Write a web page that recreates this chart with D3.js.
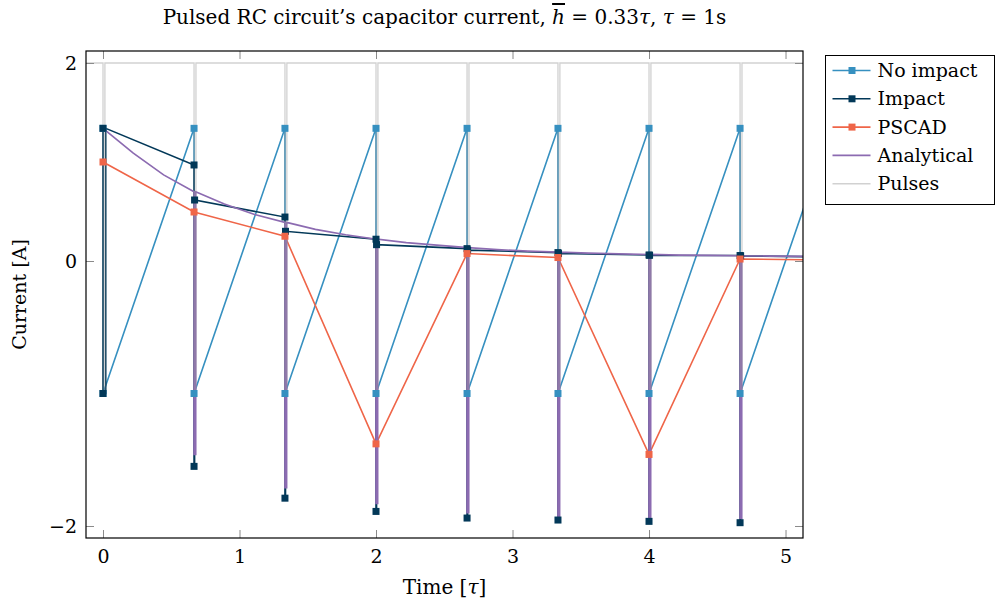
<!DOCTYPE html>
<html>
<head>
<meta charset="utf-8">
<script src="https://cdn.jsdelivr.net/npm/d3@7"></script>
<style>
  body { margin: 0; background: #fff; }
  text { font-family: "DejaVu Serif", serif; fill: #000; }
</style>
</head>
<body>
<svg id="chart" width="995" height="608"></svg>
<script>
'use strict';
// pulse instants (in tau)
const pulseTimes = [0, 0.667, 1.333, 2, 2.667, 3.333, 4, 4.667];
const pulseHigh = 2;
const pulseLow = -1.0;
const pulseWidth = 0.014;

// No impact: value right before and right after each pulse
const noImpactBefore = [1.34, 1.34, 1.34, 1.34, 1.34, 1.34, 1.34, 1.34];
const noImpactAfter = [-1.0, -1.0, -1.0, -1.0, -1.0, -1.0, -1.0, -1.0];
const noImpactEnd = {t: 5.333, v: 1.34};

// Impact: before pulse, lowest point during pulse, after pulse
const impactBefore = [1.34, 0.97, 0.444, 0.22, 0.125, 0.085, 0.06, 0.055];
const impactPeak = [-1.0, -1.55, -1.79, -1.89, -1.94, -1.955, -1.965, -1.975];
const impactAfter = [1.34, 0.616, 0.30, 0.165, 0.11, 0.075, 0.058, 0.052];
const impactEnd = {t: 5.333, v: 0.04};

// PSCAD samples
const pscadT = [0, 0.667, 1.333, 2, 2.667, 3.333, 4, 4.667, 5.333];
const pscadV = [1.0, 0.495, 0.25, -1.38, 0.075, 0.035, -1.46, 0.02, 0.01];

// Analytical curve samples and its dip at each pulse
const analyticalT = [0, 0.222, 0.444, 0.667, 0.889, 1.111, 1.333, 1.556, 1.778, 2, 2.222, 2.444,
    2.667, 2.889, 3.111, 3.333, 3.556, 3.778, 4, 4.222, 4.444, 4.667, 4.889, 5.111, 5.333];
const analyticalV = [1.34, 1.09, 0.87, 0.70, 0.575, 0.47, 0.39, 0.32, 0.265, 0.22, 0.185, 0.16,
    0.135, 0.115, 0.10, 0.09, 0.08, 0.072, 0.066, 0.06, 0.056, 0.053, 0.05, 0.047, 0.045];
const analyticalPeak = [null, -1.46, -1.71, -1.83, -1.90, -1.93, -1.94, -1.94];

const yTicks = [-2, 0, 2];
const xTicks = [0, 1, 2, 3, 4, 5];

const colors = {
    noImpact: "#3690c0",
    impact: "#023858",
    pscad: "#ef6548",
    analytical: "#8c6bb1",
    pulses: "#9a9a9a"
};

let svg = d3.select("#chart"),
    margin = {top: 51, right: 192, bottom: 70, left: 86},
    width = +svg.attr("width"),
    height = +svg.attr("height");

let x = d3.scaleLinear()
    .domain([-0.1245, 5.128])
    .range([margin.left, width - margin.right]);

// the y axis is stretched differently below and above zero
let y = d3.scaleLinear()
    .domain([-2.0906, 0, 2.1212])
    .range([height - margin.bottom, 261, margin.top]);

// ---- build series points ----
let noImpactPts = [];
pulseTimes.forEach((t, i) => {
    noImpactPts.push({t: t, v: noImpactBefore[i], m: true});
    noImpactPts.push({t: t, v: noImpactAfter[i], m: true});
});
noImpactPts.push({t: noImpactEnd.t, v: noImpactEnd.v, m: true});

let impactPts = [];
pulseTimes.forEach((t, i) => {
    let off = i == 0 ? 0.02 : 0.004;
    impactPts.push({t: t, v: impactBefore[i], m: true});
    impactPts.push({t: t, v: impactPeak[i], m: true});
    impactPts.push({t: t + off, v: impactPeak[i], m: false});
    impactPts.push({t: t + off, v: impactAfter[i], m: i != 0});
});
impactPts.push({t: impactEnd.t, v: impactEnd.v, m: true});

let pscadPts = pscadT.map((t, i) => ({t: t, v: pscadV[i], m: true}));

let analyticalPts = [];
analyticalT.forEach((t, i) => {
    let k = pulseTimes.indexOf(t);
    analyticalPts.push({t: t, v: analyticalV[i]});
    if (k > 0) {
        analyticalPts.push({t: t, v: analyticalPeak[k]});
        analyticalPts.push({t: t + 0.012, v: analyticalPeak[k]});
        analyticalPts.push({t: t + 0.012, v: analyticalV[i]});
    }
});

let pulsePts = [{t: x.domain()[0] - 0.1, v: pulseHigh}];
pulseTimes.forEach(t => {
    pulsePts.push({t: t, v: pulseHigh});
    pulsePts.push({t: t, v: pulseLow});
    pulsePts.push({t: t + pulseWidth, v: pulseLow});
    pulsePts.push({t: t + pulseWidth, v: pulseHigh});
});
pulsePts.push({t: x.domain()[1] + 0.1, v: pulseHigh});

let series = [
    {name: "No impact", color: colors.noImpact, pts: noImpactPts, marker: true, w: 1.6},
    {name: "Impact", color: colors.impact, pts: impactPts, marker: true, w: 1.6},
    {name: "PSCAD", color: colors.pscad, pts: pscadPts, marker: true, w: 1.6},
    {name: "Analytical", color: colors.analytical, pts: analyticalPts, marker: false, w: 1.7},
    {name: "Pulses", color: colors.pulses, pts: pulsePts, marker: false, w: 1.3, opacity: 0.45}
];

// ---- plot ----
svg.append("defs").append("clipPath")
    .attr("id", "plotClip")
    .append("rect")
    .attr("x", margin.left)
    .attr("y", margin.top)
    .attr("width", width - margin.right - margin.left)
    .attr("height", height - margin.bottom - margin.top);

let line = d3.line()
    .x(d => x(d.t))
    .y(d => y(d.v));

let plot = svg.append("g").attr("clip-path", "url(#plotClip)");

plot.selectAll("path.series")
    .data(series)
    .enter()
    .append("path")
    .attr("class", "series")
    .attr("fill", "none")
    .attr("stroke", d => d.color)
    .attr("stroke-opacity", d => d.opacity || 1)
    .attr("stroke-width", d => d.w)
    .attr("stroke-linejoin", "miter")
    .attr("d", d => line(d.pts));

// markers sit above all lines
let mk = plot.selectAll("g.markers")
    .data(series.filter(d => d.marker))
    .enter()
    .append("g")
    .attr("class", "markers");
mk.selectAll("rect")
    .data(d => d.pts.filter(p => p.m).map(p => ({p: p, color: d.color})))
    .enter()
    .append("rect")
    .attr("x", d => x(d.p.t) - 3.5)
    .attr("y", d => y(d.p.v) - 3.5)
    .attr("width", 7)
    .attr("height", 7)
    .attr("fill", d => d.color);

// ---- axes (ticks inward on all four sides) ----
const tickLen = 8;
let fmt = d3.format("d");

let axB = svg.append("g")
    .attr("transform", "translate(0," + (height - margin.bottom) + ")")
    .call(d3.axisBottom(x).tickValues(xTicks).tickSize(-tickLen).tickPadding(12).tickFormat(fmt));
let axT = svg.append("g")
    .attr("transform", "translate(0," + margin.top + ")")
    .call(d3.axisTop(x).tickValues(xTicks).tickSize(-tickLen).tickFormat(""));
let axL = svg.append("g")
    .attr("transform", "translate(" + margin.left + ",0)")
    .call(d3.axisLeft(y).tickValues(yTicks).tickSize(-tickLen).tickPadding(9).tickFormat(fmt));
let axR = svg.append("g")
    .attr("transform", "translate(" + (width - margin.right) + ",0)")
    .call(d3.axisRight(y).tickValues(yTicks).tickSize(-tickLen).tickFormat(""));

[axB, axT, axL, axR].forEach(a => {
    a.select(".domain").remove();
    a.selectAll(".tick line").attr("stroke", "#8a8a8a").attr("stroke-width", 1);
    a.selectAll(".tick text")
        .style("font-family", "DejaVu Serif")
        .style("font-size", "19px")
        .attr("fill", "#000");
});

svg.append("rect")
    .attr("x", margin.left)
    .attr("y", margin.top)
    .attr("width", width - margin.right - margin.left)
    .attr("height", height - margin.bottom - margin.top)
    .attr("fill", "none")
    .attr("stroke", "#000")
    .attr("stroke-width", 1.2);

// ---- labels ----
let plotMidX = (margin.left + width - margin.right) / 2;

let title = svg.append("text")
    .attr("x", plotMidX)
    .attr("y", 24)
    .attr("text-anchor", "middle")
    .style("font-size", "20px");
title.append("tspan").text("Pulsed RC circuit\u2019s capacitor current, ");
title.append("tspan").attr("font-style", "italic").attr("text-decoration", "overline").text("h");
title.append("tspan").text(" = 0.33");
title.append("tspan").attr("font-style", "italic").text("\u03c4");
title.append("tspan").text(", ");
title.append("tspan").attr("font-style", "italic").text("\u03c4");
title.append("tspan").text(" = 1s");

let xl = svg.append("text")
    .attr("x", plotMidX)
    .attr("y", 594)
    .attr("text-anchor", "middle")
    .style("font-size", "20px");
xl.append("tspan").text("Time [");
xl.append("tspan").attr("font-style", "italic").text("\u03c4");
xl.append("tspan").text("]");

svg.append("text")
    .attr("transform", "translate(26," + ((margin.top + height - margin.bottom) / 2) + ") rotate(-90)")
    .attr("text-anchor", "middle")
    .style("font-size", "19px")
    .text("Current [A]");

// ---- legend ----
let legend = svg.append("g").attr("transform", "translate(825.5,55.5)");
legend.append("rect")
    .attr("width", 169)
    .attr("height", 149)
    .attr("fill", "#fff")
    .attr("stroke", "#000")
    .attr("stroke-width", 1);

let li = legend.selectAll("g.item")
    .data(series)
    .enter()
    .append("g")
    .attr("class", "item")
    .attr("transform", (d, i) => "translate(0," + (15 + i * 28.3) + ")");
li.append("line")
    .attr("x1", 7).attr("x2", 45)
    .attr("stroke", d => d.color)
    .attr("stroke-opacity", d => d.opacity || 1)
    .attr("stroke-width", 1.6);
li.filter(d => d.marker)
    .append("rect")
    .attr("x", 23).attr("y", -3.5)
    .attr("width", 7).attr("height", 7)
    .attr("fill", d => d.color);
legend.selectAll("text.lbl")
    .data(series)
    .enter()
    .append("text")
    .attr("class", "lbl")
    .attr("x", 52)
    .attr("y", (d, i) => 15 + i * 28.3)
    .attr("dy", "0.35em")
    .style("font-size", "19px")
    .text(d => d.name);
</script>
</body>
</html>
